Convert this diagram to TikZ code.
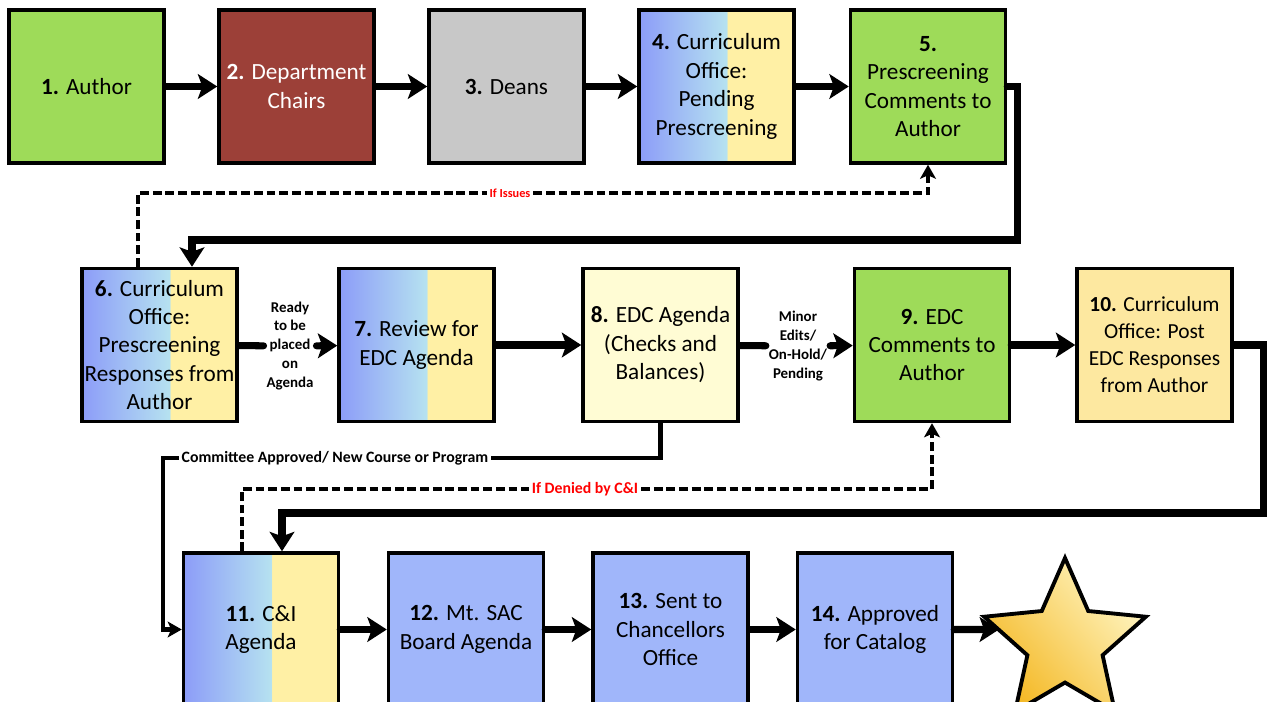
\documentclass[tikz,border=0pt]{standalone}
\usepackage{fontspec}
\setmainfont{Carlito}
\usetikzlibrary{arrows.meta,shapes.geometric}

\definecolor{authgreen}{RGB}{158,219,89}
\definecolor{chairred}{RGB}{156,64,56}
\definecolor{deangray}{RGB}{200,200,200}
\definecolor{offblue}{RGB}{140,156,248}
\definecolor{offcyan}{RGB}{182,226,240}
\definecolor{offyellow}{RGB}{255,240,165}
\definecolor{boardblue}{RGB}{160,182,250}
\definecolor{edcyellow}{RGB}{255,252,212}
\definecolor{postyellow}{RGB}{253,232,160}
\definecolor{starlight}{RGB}{255,246,196}
\definecolor{stargold}{RGB}{244,184,36}

\pgfdeclarehorizontalshading{officeshade}{100bp}{color(0bp)=(offblue); color(25bp)=(offblue); color(53.4bp)=(offcyan); color(53.5bp)=(offyellow); color(100bp)=(offyellow)}

\begin{document}
\begin{tikzpicture}[x=0.02cm,y=-0.02cm,
	>={Stealth[length=11pt,width=14pt,inset=2.5pt]},
	box/.style={draw,line width=2pt,minimum width=3.1cm,minimum height=3.06cm,
		align=center,inner sep=1pt,font=\fontsize{13.2}{16.2}\selectfont},
	office/.style={box,shade,shading=officeshade},
	flow/.style={->,line width=4pt,line cap=round},
	thinflow/.style={->,line width=2.4pt,>={Stealth[length=8pt,width=9pt,inset=2pt]}},
	dashflow/.style={->,line width=2.2pt,dash pattern=on 5pt off 2.2pt,
		>={Stealth[length=8pt,width=9pt,inset=2pt]}},
	note/.style={inner sep=1.5pt,align=center,font=\fontsize{8.5}{10.8}\selectfont\bfseries}]
			%%%	Frame
			\clip (0,0) rectangle (1270,702);
			%%%	Row 1
			\node[box,fill=authgreen] (author) at (86.5,86.5) {\textbf{1.} Author};
			\node[box,fill=chairred,text=white] (chairs) at (296.5,86.5) {\textbf{2.} Department\\Chairs};
			\node[box,fill=deangray] (deans) at (506.5,86.5) {\textbf{3.} Deans};
			\node[office] (pending) at (716.5,86.5) {\textbf{4.} Curriculum\\Office:\\Pending\\Prescreening};
			\node[box,fill=authgreen] (precomments) at (928,86.5) {\textbf{5.}\\Prescreening\\Comments to\\Author};
			%%%	Row 2
			\node[office] (responses) at (159.5,345) {\textbf{6.} Curriculum\\Office:\\Prescreening\\Responses from\\Author};
			\node[office] (review) at (416.5,345) {\textbf{7.} Review for\\EDC Agenda};
			\node[box,fill=edcyellow] (edcagenda) at (660.5,345) {\textbf{8.} EDC Agenda\\(Checks and\\Balances)};
			\node[box,fill=authgreen] (edccomments) at (932,345) {\textbf{9.} EDC\\Comments to\\Author};
			\node[box,fill=postyellow,font=\fontsize{12.2}{15.4}\selectfont] (postedc) at (1154.5,345) {\textbf{10.} Curriculum\\Office: Post\\EDC Responses\\from Author};
			%%%	Row 3
			\node[office] (cni) at (261,629.5) {\textbf{11.} C\&I\\Agenda};
			\node[box,fill=boardblue] (board) at (466,629.5) {\textbf{12.} Mt. SAC\\Board Agenda};
			\node[box,fill=boardblue] (chancellor) at (670.5,629.5) {\textbf{13.} Sent to\\Chancellors\\Office};
			\node[box,fill=boardblue] (catalog) at (875,629.5) {\textbf{14.} Approved\\for Catalog};
			\node[star,star points=5,star point ratio=2.15,minimum size=3.4cm,inner sep=0pt,
				draw,line width=2.2pt,shade,left color=starlight,right color=stargold,shading angle=-50] (star) at (1065,643) {};
			%%%	Labels
			\node[note,text=red,font=\fontsize{7}{8}\selectfont\bfseries] (issues) at (510,193) {If Issues};
			\node[note] (ready) at (290,346) {Ready\\to be\\placed\\on\\Agenda};
			\node[note] (minor) at (798,346) {Minor\\Edits/\\On-Hold/\\Pending};
			\node[note,font=\fontsize{9}{11}\selectfont\bfseries] (committee) at (335,458) {Committee Approved/ New Course or Program};
			\node[note,text=red,font=\fontsize{9}{11}\selectfont\bfseries] (denied) at (585,489) {If Denied by C\&I};
			%%%	Connectors
			\draw[flow] (author) -- (chairs);
			\draw[flow] (chairs) -- (deans);
			\draw[flow] (deans) -- (pending);
			\draw[flow] (pending) -- (precomments);
			\draw[flow] (precomments.east) -| (1017,240) -| ([xshift=0.65cm]responses.north);
			\draw[dashflow] ([xshift=-0.43cm]responses.north) |- (issues) -| (precomments.south);
			\draw[flow] (responses) -- (ready) -- (review);
			\draw[flow] (review) -- (edcagenda);
			\draw[flow] (edcagenda) -- (minor) -- (edccomments);
			\draw[flow] (edccomments) -- (postedc);
			\draw[flow] (postedc.east) -| (1263,513) -| ([xshift=0.42cm]cni.north);
			\draw[thinflow] (edcagenda.south) |- (committee) -| (163,629.5) -- (cni.west);
			\draw[dashflow] ([xshift=-0.38cm]cni.north) |- (denied) -| (edccomments.south);
			\draw[flow] (cni) -- (board);
			\draw[flow] (board) -- (chancellor);
			\draw[flow] (chancellor) -- (catalog);
			\draw[flow] (catalog) -- ([xshift=-1.32cm,yshift=0.27cm]star.center);
\end{tikzpicture}
\end{document}
